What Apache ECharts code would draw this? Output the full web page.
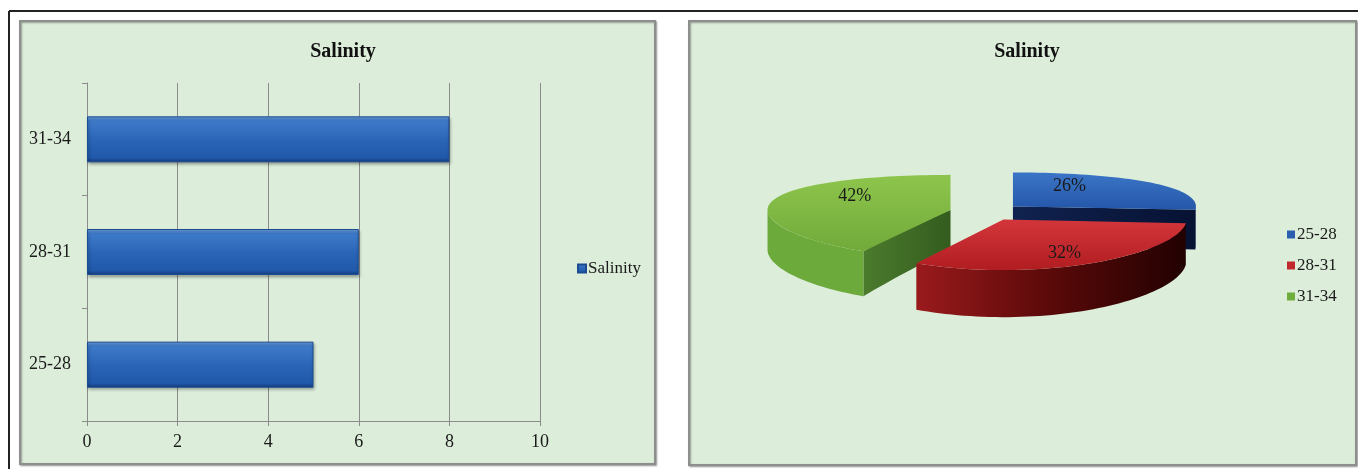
<!DOCTYPE html>
<html>
<head>
<meta charset="utf-8">
<script src="https://cdn.jsdelivr.net/npm/echarts@6/dist/echarts.min.js"></script>
<style>
html,body{margin:0;padding:0;background:#fff;}
#c{width:1358px;height:469px;}
</style>
</head>
<body>
<div id="c"></div>
<script>
// ---- data ----
const categories = ['25-28', '28-31', '31-34'];
const salinityCounts = [5, 6, 8];
const xTicks = [0, 2, 4, 6, 8, 10];
const chartTitle = 'Salinity';
const seriesName = 'Salinity';

// ---- styling ----
const SERIF = '"Liberation Serif", "Times New Roman", serif';
const PIE = {cx: 986, cy: 212, rx: 183, ry: 42, h: 40, k: 0.15, explode: 0.2};
const sliceStyle = [
  {legend: '#2C5EB0', top: ['#3B75C7', '#2456A8'], wall: '#0F2252', face: ['#10224F', '#071233'], labelT: 0.42, labelDy: -9},
  {legend: '#C0282D', top: ['#D3363A', '#B11D22'], wall: ['#9A1A1C', '#5A0909', '#220101'], face: ['#7A1010', '#4A0606'], labelT: 0.70, labelDy: 4},
  {legend: '#6FAE3D', top: ['#8DC54C', '#71AA3A'], wall: '#6DAA3C', face: ['#4B7B2D', '#335C1E'], labelT: 0.54, labelDy: -8}
];

function fillOf(c, horizontal) {
  if (typeof c === 'string') return c;
  const stops = c.map((col, i) => ({offset: i / (c.length - 1), color: col}));
  return {type: 'linear', x: 0, y: 0, x2: horizontal ? 1 : 0, y2: horizontal ? 0 : 1, colorStops: stops};
}

const total = salinityCounts.reduce((a, b) => a + b, 0);

// ground-plane point (X right, Z back) -> screen, with a light depth foreshortening
function proj(X, Z, down) {
  return [PIE.cx + PIE.rx * X,
          PIE.cy - PIE.ry * (Z - PIE.k * Z * Z) + (down ? PIE.h * (1 - PIE.k * Z) : 0)];
}
function rim(O, deg, t, down) {
  const r = deg * Math.PI / 180;
  return proj(O[0] + t * Math.sin(r), O[1] + t * Math.cos(r), down);
}
function arc(O, a0, a1, down) {
  const pts = [];
  const n = Math.max(2, Math.ceil(Math.abs(a1 - a0) / 2));
  for (let i = 0; i <= n; i++) pts.push(rim(O, a0 + (a1 - a0) * i / n, 1, down));
  return pts;
}
function radial(O, deg, down) {
  const pts = [];
  for (let i = 0; i <= 8; i++) pts.push(rim(O, deg, i / 8, down));
  return pts;
}

function makeRender(idx) {
  return function (params, api) {
    const v = api.value(0);
    let before = 0;
    for (let k = 0; k < idx; k++) before += salinityCounts[k];
    const a0 = before / total * 360;
    const a1 = (before + v) / total * 360;
    const am = (a0 + a1) / 2;
    const rm = am * Math.PI / 180;
    const O = [PIE.explode * Math.sin(rm), PIE.explode * Math.cos(rm)];
    const st = sliceStyle[idx];
    const children = [];
    const faceAt = (a) => ({
      type: 'polygon',
      shape: {points: radial(O, a, false).concat(radial(O, a, true).reverse())},
      style: {fill: fillOf(st.face, true)}
    });
    if (-Math.cos((a0 - 90) * Math.PI / 180) > 0.01) children.push(faceAt(a0));
    if (-Math.cos((a1 + 90) * Math.PI / 180) > 0.01) children.push(faceAt(a1));
    const f0 = Math.max(a0, 90), f1 = Math.min(a1, 270);
    if (f1 > f0) {
      const pts = arc(O, f0, f1, false).concat(arc(O, f1, f0, true));
      children.push({type: 'polygon', shape: {points: pts}, style: {fill: fillOf(st.wall, true)}});
    }
    children.push({
      type: 'polygon',
      shape: {points: [proj(O[0], O[1], false)].concat(arc(O, a0, a1, false))},
      style: {fill: fillOf(st.top, false)}
    });
    const lp = rim(O, am, st.labelT, false);
    children.push({
      type: 'text',
      x: lp[0], y: lp[1] + st.labelDy,
      style: {
        text: Math.round(v / total * 100) + '%',
        font: '18px ' + SERIF,
        fill: '#1a1a1a',
        align: 'center',
        verticalAlign: 'middle'
      }
    });
    return {type: 'group', children: children};
  };
}

const zOrder = [2, 4, 3];
const pieSeries = categories.map((name, i) => ({
  type: 'custom',
  name: name,
  coordinateSystem: 'none',
  z: zOrder[i],
  itemStyle: {color: sliceStyle[i].legend},
  renderItem: makeRender(i),
  data: [[salinityCounts[i]]],
  silent: true
}));

const chart = echarts.init(document.getElementById('c'), null, {renderer: 'canvas'});
chart.setOption({
  animation: false,
  backgroundColor: '#ffffff',
  graphic: {
    elements: [
      {type: 'line', z: -10, shape: {x1: 9, y1: 11, x2: 1358, y2: 11}, style: {stroke: '#222', lineWidth: 2}},
      {type: 'line', z: -10, shape: {x1: 9, y1: 11, x2: 9, y2: 469}, style: {stroke: '#222', lineWidth: 2}},
      {type: 'rect', z: -9, shape: {x: 20, y: 21, width: 635, height: 443},
        style: {fill: '#DCEDDA', stroke: '#8E8E8E', lineWidth: 2, shadowBlur: 2, shadowOffsetX: 1, shadowOffsetY: 1, shadowColor: 'rgba(0,0,0,0.35)'}},
      {type: 'rect', z: -9, shape: {x: 689, y: 21, width: 667, height: 444},
        style: {fill: '#DCEDDA', stroke: '#8E8E8E', lineWidth: 2, shadowBlur: 2, shadowOffsetX: 1, shadowOffsetY: 1, shadowColor: 'rgba(0,0,0,0.35)'}}
    ]
  },
  title: [
    {text: chartTitle, left: 338, top: 37, textAlign: 'center',
      textStyle: {fontFamily: SERIF, fontWeight: 'bold', fontSize: 20, color: '#111'}},
    {text: chartTitle, left: 1022, top: 37, textAlign: 'center',
      textStyle: {fontFamily: SERIF, fontWeight: 'bold', fontSize: 20, color: '#111'}}
  ],
  legend: [
    {data: [seriesName], left: 572, top: 255, icon: 'rect', itemWidth: 8, itemHeight: 8, itemGap: 4,
      textStyle: {fontFamily: SERIF, fontSize: 17, color: '#1a1a1a', padding: [0, 0, 0, -3]}},
    {data: categories.slice(), orient: 'vertical', left: 1282, top: 221, icon: 'rect', itemWidth: 8, itemHeight: 8,
      itemGap: 14, textStyle: {fontFamily: SERIF, fontSize: 17, color: '#1a1a1a', padding: [0, 0, 0, -3]}}
  ],
  grid: {left: 87, right: 818, top: 83, bottom: 48, containLabel: false},
  xAxis: {
    type: 'value', min: xTicks[0], max: xTicks[xTicks.length - 1], interval: xTicks[1] - xTicks[0],
    axisLine: {show: true, lineStyle: {color: '#8B8B8B', width: 1}},
    axisTick: {show: true, length: 5, lineStyle: {color: '#8B8B8B'}},
    splitLine: {show: true, lineStyle: {color: '#8B8B8B', width: 1}},
    axisLabel: {fontFamily: SERIF, fontSize: 18, color: '#1a1a1a', margin: 12}
  },
  yAxis: {
    type: 'category', data: categories,
    axisLine: {show: true, lineStyle: {color: '#8B8B8B', width: 1}},
    axisTick: {show: true, length: 5, lineStyle: {color: '#8B8B8B'}},
    splitLine: {show: false},
    axisLabel: {fontFamily: SERIF, fontSize: 18, color: '#1a1a1a', margin: 16}
  },
  series: [{
    type: 'bar', name: seriesName, data: salinityCounts, barWidth: 46, z: 3,
    itemStyle: {
      color: {type: 'linear', x: 0, y: 0, x2: 0, y2: 1, colorStops: [
        {offset: 0, color: '#6FA4E4'}, {offset: 0.1, color: '#3E7ACA'}, {offset: 0.5, color: '#2B65B7'},
        {offset: 0.9, color: '#2059AA'}, {offset: 1, color: '#14397A'}]},
      borderColor: '#1B4B91', borderWidth: 1,
      shadowBlur: 3, shadowOffsetX: 1, shadowOffsetY: 2, shadowColor: 'rgba(0,0,0,0.35)'
    }
  }].concat(pieSeries)
});
</script>
</body>
</html>
